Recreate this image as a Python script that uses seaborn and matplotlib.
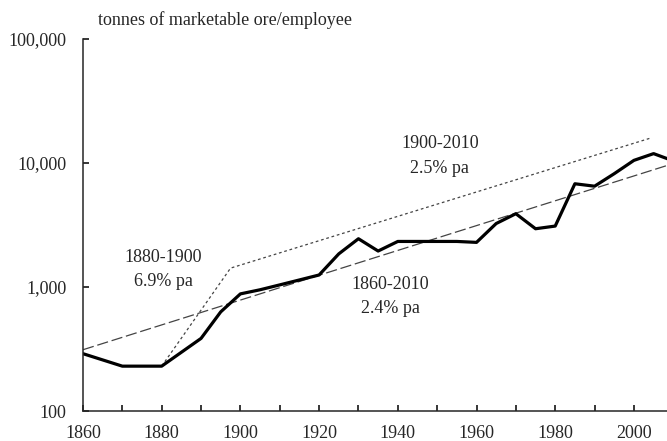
import matplotlib
matplotlib.use("Agg")
import matplotlib.pyplot as plt
import matplotlib.ticker as mticker
import pandas as pd
import seaborn as sns

# productivity series, tonnes of marketable ore per employee
years = [1860, 1870, 1880, 1890, 1895, 1900, 1905, 1910, 1915, 1920, 1925,
         1930, 1935, 1940, 1945, 1950, 1955, 1960, 1965, 1970, 1975, 1980,
         1985, 1990, 1995, 2000, 2005, 2010]
output = [290, 230, 230, 385, 630, 880, 950, 1040, 1140, 1250, 1850,
          2450, 1950, 2330, 2330, 2330, 2330, 2290, 3250, 3900, 2950, 3100,
          6800, 6500, 8200, 10500, 11900, 10400]

# fitted trend lines (endpoints)
trend_long_years = [1860, 2010]
trend_long_vals = [312, 9900]
trend_split_years = [1880, 1897.5, 2004]
trend_split_vals = [230, 1420, 15800]

labels = [("1880-1900\n6.9% pa", 1880.4, 1380),
          ("1900-2010\n2.5% pa", 1950.7, 11380),
          ("1860-2010\n2.4% pa", 1938.2, 838)]

sns.set_style("ticks")
plt.rcParams["font.family"] = ["Liberation Serif", "DejaVu Serif"]

df = pd.DataFrame({"year": years, "value": output})
long_df = pd.DataFrame({"year": trend_long_years, "value": trend_long_vals})
split_df = pd.DataFrame({"year": trend_split_years, "value": trend_split_vals})

fig = plt.figure(figsize=(6.67, 4.41), dpi=100)
ax = fig.add_axes([0.1244, 0.068, 0.885, 0.8436])

sns.lineplot(data=long_df, x="year", y="value", ax=ax, color="#444444",
             linewidth=0.9, linestyle=(0, (9, 3)))
sns.lineplot(data=split_df, x="year", y="value", ax=ax, color="#444444",
             linewidth=0.9, linestyle=(0, (2.2, 2.2)))
sns.lineplot(data=df, x="year", y="value", ax=ax, color="black",
             linewidth=2.3)

ax.set_yscale("log")
ax.set_ylim(100, 100000)
ax.set_xlim(1860, 2010)
ax.yaxis.set_major_locator(mticker.FixedLocator([100, 1000, 10000, 100000]))
ax.yaxis.set_minor_locator(mticker.NullLocator())
ax.yaxis.set_major_formatter(mticker.FuncFormatter(lambda v, p: f"{v:,.0f}"))
ax.xaxis.set_major_locator(mticker.MultipleLocator(20))
ax.xaxis.set_minor_locator(mticker.MultipleLocator(10))

ax.tick_params(axis="both", which="both", direction="in", labelsize=13,
               color="black", width=1.1)
ax.tick_params(axis="x", which="major", length=4, pad=10)
ax.tick_params(axis="x", which="minor", length=4)
ax.tick_params(axis="y", which="major", length=4, pad=12)
for side in ("top", "right"):
    ax.spines[side].set_visible(False)
for side in ("left", "bottom"):
    ax.spines[side].set_linewidth(1.1)
ax.set_xlabel("")
ax.set_ylabel("")

for text, x, y in labels:
    ax.text(x, y, text, ha="center", va="center", fontsize=13,
            linespacing=1.55)

fig.text(98 / 667, 1 - 20 / 441, "tonnes of marketable ore/employee",
         ha="left", va="center", fontsize=13)

fig.savefig("out.png", dpi=100)
